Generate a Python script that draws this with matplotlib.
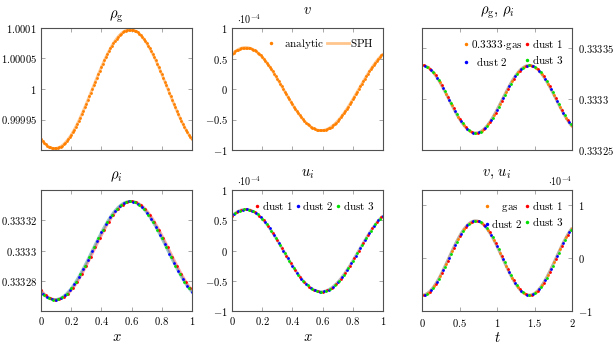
import numpy as np
import matplotlib
matplotlib.use('Agg')
import matplotlib.pyplot as plt
from matplotlib.lines import Line2D
from matplotlib.ticker import FixedLocator, FixedFormatter

plt.rcParams['font.family'] = ['cmr10', 'DejaVu Serif']
plt.rcParams['mathtext.fontset'] = 'cm'

# ---------------- data ----------------
x_pos = np.linspace(0, 1, 101)
t_pos = np.linspace(0, 2, 101)

# gas density deviation from 1, units of 1e-5
rho_g_dev = [-8.23, -8.54, -8.82, -9.07, -9.27, -9.45, -9.57, -9.67, -9.73, -9.75,
             -9.73, -9.67, -9.57, -9.45, -9.27, -9.07, -8.82, -8.54, -8.23, -7.89,
             -7.52, -7.11, -6.68, -6.21, -5.73, -5.23, -4.70, -4.15, -3.59, -3.01,
             -2.43, -1.82, -1.22, -0.61, 0.00, 0.61, 1.22, 1.82, 2.43, 3.01,
             3.59, 4.15, 4.70, 5.23, 5.73, 6.21, 6.68, 7.11, 7.52, 7.89,
             8.23, 8.54, 8.82, 9.07, 9.27, 9.45, 9.57, 9.67, 9.73, 9.75,
             9.73, 9.67, 9.57, 9.45, 9.27, 9.07, 8.82, 8.54, 8.23, 7.89,
             7.52, 7.11, 6.68, 6.21, 5.73, 5.23, 4.70, 4.15, 3.59, 3.01,
             2.43, 1.82, 1.22, 0.61, 0.00, -0.61, -1.22, -1.82, -2.43, -3.01,
             -3.59, -4.15, -4.70, -5.23, -5.73, -6.21, -6.68, -7.11, -7.52, -7.89, -8.23]

# gas velocity vs x, units of 1e-4
v_x = [0.574, 0.596, 0.615, 0.632, 0.647, 0.659, 0.668, 0.675, 0.679, 0.680,
       0.679, 0.675, 0.668, 0.659, 0.647, 0.632, 0.615, 0.596, 0.574, 0.550,
       0.524, 0.496, 0.466, 0.433, 0.400, 0.364, 0.328, 0.290, 0.250, 0.210,
       0.169, 0.127, 0.085, 0.043, 0.000, -0.043, -0.085, -0.127, -0.169, -0.210,
       -0.250, -0.290, -0.328, -0.364, -0.400, -0.433, -0.466, -0.496, -0.524, -0.550,
       -0.574, -0.596, -0.615, -0.632, -0.647, -0.659, -0.668, -0.675, -0.679, -0.680,
       -0.679, -0.675, -0.668, -0.659, -0.647, -0.632, -0.615, -0.596, -0.574, -0.550,
       -0.524, -0.496, -0.466, -0.433, -0.400, -0.364, -0.328, -0.290, -0.250, -0.210,
       -0.169, -0.127, -0.085, -0.043, 0.000, 0.043, 0.085, 0.127, 0.169, 0.210,
       0.250, 0.290, 0.328, 0.364, 0.400, 0.433, 0.466, 0.496, 0.524, 0.550, 0.574]

# dust velocities vs x (all three read as identical to v), units of 1e-4
u_x = v_x

# dust density deviation from 0.3333, units of 1e-5 (dust 2, dust 3)
rho_i_dev = [-2.74, -2.85, -2.94, -3.02, -3.09, -3.15, -3.19, -3.22, -3.24, -3.25,
             -3.24, -3.22, -3.19, -3.15, -3.09, -3.02, -2.94, -2.85, -2.74, -2.63,
             -2.51, -2.37, -2.23, -2.07, -1.91, -1.74, -1.57, -1.38, -1.20, -1.00,
             -0.81, -0.61, -0.41, -0.20, 0.00, 0.20, 0.41, 0.61, 0.81, 1.00,
             1.20, 1.38, 1.57, 1.74, 1.91, 2.07, 2.23, 2.37, 2.51, 2.63,
             2.74, 2.85, 2.94, 3.02, 3.09, 3.15, 3.19, 3.22, 3.24, 3.25,
             3.24, 3.22, 3.19, 3.15, 3.09, 3.02, 2.94, 2.85, 2.74, 2.63,
             2.51, 2.37, 2.23, 2.07, 1.91, 1.74, 1.57, 1.38, 1.20, 1.00,
             0.81, 0.61, 0.41, 0.20, 0.00, -0.20, -0.41, -0.61, -0.81, -1.00,
             -1.20, -1.38, -1.57, -1.74, -1.91, -2.07, -2.23, -2.37, -2.51, -2.63, -2.74]

# dust 1 density (slightly lagging), units of 1e-5
rho_d1_dev = [-2.63, -2.74, -2.85, -2.94, -3.02, -3.09, -3.15, -3.19, -3.22, -3.24,
              -3.25, -3.24, -3.22, -3.19, -3.15, -3.09, -3.02, -2.94, -2.85, -2.74,
              -2.63, -2.51, -2.37, -2.23, -2.07, -1.91, -1.74, -1.57, -1.38, -1.20,
              -1.00, -0.81, -0.61, -0.41, -0.20, 0.00, 0.20, 0.41, 0.61, 0.81,
              1.00, 1.20, 1.38, 1.57, 1.74, 1.91, 2.07, 2.23, 2.37, 2.51,
              2.63, 2.74, 2.85, 2.94, 3.02, 3.09, 3.15, 3.19, 3.22, 3.24,
              3.25, 3.24, 3.22, 3.19, 3.15, 3.09, 3.02, 2.94, 2.85, 2.74,
              2.63, 2.51, 2.37, 2.23, 2.07, 1.91, 1.74, 1.57, 1.38, 1.20,
              1.00, 0.81, 0.61, 0.41, 0.20, 0.00, -0.20, -0.41, -0.61, -0.81,
              -1.00, -1.20, -1.38, -1.57, -1.74, -1.91, -2.07, -2.23, -2.37, -2.51, -2.63]

# densities vs time, deviation from 0.3333, units of 1e-5
rho_t_dev = [3.33, 3.32, 3.28, 3.21, 3.13, 3.01, 2.88, 2.72, 2.54, 2.34,
             2.12, 1.89, 1.65, 1.38, 1.11, 0.83, 0.55, 0.26, -0.04, -0.33,
             -0.62, -0.90, -1.18, -1.45, -1.71, -1.95, -2.18, -2.39, -2.59, -2.76,
             -2.91, -3.04, -3.15, -3.23, -3.29, -3.32, -3.33, -3.31, -3.27, -3.20,
             -3.10, -2.98, -2.84, -2.68, -2.49, -2.29, -2.07, -1.83, -1.58, -1.32,
             -1.04, -0.76, -0.47, -0.18, 0.11, 0.40, 0.69, 0.97, 1.25, 1.52,
             1.77, 2.01, 2.23, 2.44, 2.63, 2.80, 2.95, 3.07, 3.17, 3.25,
             3.30, 3.33, 3.33, 3.30, 3.25, 3.17, 3.07, 2.95, 2.80, 2.63,
             2.44, 2.23, 2.01, 1.77, 1.52, 1.25, 0.97, 0.69, 0.40, 0.11,
             -0.18, -0.47, -0.76, -1.04, -1.32, -1.58, -1.83, -2.07, -2.29, -2.49, -2.68]

# velocities vs time, units of 1e-4
v_t = [-0.700, -0.697, -0.690, -0.676, -0.657, -0.634, -0.605, -0.572, -0.534, -0.492,
       -0.447, -0.398, -0.346, -0.291, -0.234, -0.175, -0.115, -0.054, 0.008, 0.069,
       0.130, 0.190, 0.249, 0.305, 0.359, 0.410, 0.459, 0.503, 0.544, 0.580,
       0.613, 0.640, 0.662, 0.680, 0.692, 0.699, 0.700, 0.696, 0.687, 0.672,
       0.652, 0.627, 0.597, 0.563, 0.524, 0.481, 0.435, 0.385, 0.332, 0.277,
       0.219, 0.160, 0.099, 0.039, -0.023, -0.085, -0.145, -0.204, -0.263, -0.319,
       -0.372, -0.423, -0.470, -0.514, -0.554, -0.589, -0.620, -0.646, -0.667, -0.683,
       -0.694, -0.699, -0.699, -0.694, -0.683, -0.667, -0.646, -0.620, -0.589, -0.553,
       -0.514, -0.470, -0.422, -0.372, -0.319, -0.263, -0.204, -0.145, -0.084, -0.023,
       0.039, 0.099, 0.160, 0.219, 0.277, 0.332, 0.385, 0.435, 0.481, 0.524, 0.563]

rho_g = 1.0 + 1e-5 * np.array(rho_g_dev)
rho_i = 0.3333 + 1e-5 * np.array(rho_i_dev)
rho_d1 = 0.3333 + 1e-5 * np.array(rho_d1_dev)
rho_t = 0.3333 + 1e-5 * np.array(rho_t_dev)

# ---------------- style ----------------
OR = '#ff8000'
RED = '#ff0000'
BLUE = '#0000ff'
GREEN = '#00e000'
MS = 2.0
TICK_FS = 7.6
LEG_FS = 8.0
TITLE_FS = 10.5

fig = plt.figure(figsize=(6.14, 3.45), dpi=100)
W, H = 614.0, 345.0


def mk_ax(l, t, r, b):
    return fig.add_axes([l / W, 1 - b / H, (r - l) / W, (b - t) / H])


axA = mk_ax(41, 28, 192, 150)
axB = mk_ax(232, 28, 383, 150)
axC = mk_ax(422, 28, 572, 150)
axD = mk_ax(41, 190, 192, 311)
axE = mk_ax(232, 190, 383, 311)
axF = mk_ax(422, 190, 572, 311)


def style(ax, right=False):
    for s in ax.spines.values():
        s.set_color('#505050')
        s.set_linewidth(0.8)
    ax.tick_params(direction='in', top=True, right=True, length=3.2, width=0.6,
                   color='#9a9a9a', labelsize=TICK_FS, pad=3)
    if right:
        ax.tick_params(labelleft=False, labelright=True, pad=4)


def set_ticks(axis, vals, labels):
    axis.set_major_locator(FixedLocator(vals))
    axis.set_major_formatter(FixedFormatter(labels))


def dots(ax, xs, ys, color, every=1, start=0):
    ax.plot(xs, ys, linestyle='none', marker='o', ms=MS, mew=0, color=color,
            markevery=(start, every))


def band(ax, xs, ys, color, alpha=0.35):
    ax.plot(xs, ys, color=color, lw=2.0, alpha=alpha, solid_capstyle='butt')


x_ticks = [0, 0.2, 0.4, 0.6, 0.8, 1]
x_labels = ['$0$', '$0.2$', '$0.4$', '$0.6$', '$0.8$', '$1$']
t_ticks = [0, 0.5, 1, 1.5, 2]
t_labels = ['$0$', '$0.5$', '$1$', '$1.5$', '$2$']
v_ticks = [-1, -0.5, 0, 0.5, 1]
v_labels = ['$-1$', '$-0.5$', '$0$', '$0.5$', '$1$']

LEG_KW = dict(frameon=False, loc='upper right', bbox_to_anchor=(1.0, 1.0),
              fontsize=LEG_FS, handletextpad=0.1, borderpad=0.3)

# ---- A: rho_g vs x ----
band(axA, x_pos, rho_g, OR, 0.45)
dots(axA, x_pos, rho_g, OR)
axA.set_xlim(0, 1)
axA.set_ylim(0.9999, 1.0001)
set_ticks(axA.xaxis, x_ticks, [''] * 6)
set_ticks(axA.yaxis, [0.99995, 1.0, 1.00005, 1.0001],
          ['$0.99995$', '$1$', '$1.00005$', '$1.0001$'])
axA.set_title(r'$\rho_{\mathrm{g}}$', fontsize=TITLE_FS, pad=7)
style(axA)

# ---- B: v vs x ----
band(axB, x_pos, v_x, OR, 0.45)
dots(axB, x_pos, v_x, OR)
axB.set_xlim(0, 1)
axB.set_ylim(-1, 1)
set_ticks(axB.xaxis, x_ticks, [''] * 6)
set_ticks(axB.yaxis, v_ticks, v_labels)
axB.set_title(r'$v$', fontsize=TITLE_FS, pad=10)
axB.text(0.03, 1.015, r'$\cdot 10^{-4}$', transform=axB.transAxes, fontsize=7.3,
         ha='left', va='bottom')
hB = [Line2D([], [], ls='none', marker='o', ms=2.5, mew=0, color=OR),
      Line2D([], [], color=OR, alpha=0.45, lw=2.0)]
axB.legend(hB, [r'$\mathrm{analytic}$', r'$\mathrm{SPH}$'], ncol=2,
           handlelength=2.0, columnspacing=0.3, **LEG_KW)
style(axB)

# ---- C: rho vs t ----
for c in (OR, RED, BLUE, GREEN):
    band(axC, t_pos, rho_t, c, 0.15)
dots(axC, t_pos, rho_t, OR, 4, 0)
dots(axC, t_pos, rho_t, RED, 4, 1)
dots(axC, t_pos, rho_t, BLUE, 4, 2)
dots(axC, t_pos, rho_t, GREEN, 4, 3)
axC.set_xlim(0, 2)
axC.set_ylim(0.33325, 0.33337)
set_ticks(axC.xaxis, t_ticks, [''] * 5)
set_ticks(axC.yaxis, [0.33325, 0.3333, 0.33335], ['$0.33325$', '$0.3333$', '$0.33335$'])
axC.set_title(r'$\rho_{\mathrm{g}},\,\rho_i$', fontsize=TITLE_FS, pad=10)


def dh(c):
    return Line2D([], [], ls='none', marker='o', ms=2.5, mew=0, color=c)


axC.legend([dh(OR), dh(BLUE), dh(RED), dh(GREEN)],
           [r'$0.3333\!\cdot\!\mathrm{gas}$', r'$\;\;\mathrm{dust\ 2}$',
            r'$\mathrm{dust\ 1}$', r'$\mathrm{dust\ 3}$'],
           ncol=2, handlelength=0.6, columnspacing=0.15, labelspacing=0.25, **LEG_KW)
style(axC, right=True)

# ---- D: rho_i vs x ----
band(axD, x_pos, rho_d1, RED, 0.35)
band(axD, x_pos, rho_i, GREEN, 0.25)
band(axD, x_pos, rho_i, BLUE, 0.2)
dots(axD, x_pos, rho_d1, RED, 3, 0)
dots(axD, x_pos, rho_i, BLUE, 3, 1)
dots(axD, x_pos, rho_i, GREEN, 3, 2)
axD.set_xlim(0, 1)
axD.set_ylim(0.33326, 0.33334)
set_ticks(axD.xaxis, x_ticks, x_labels)
set_ticks(axD.yaxis, [0.33328, 0.3333, 0.33332], ['$0.33328$', '$0.3333$', '$0.33332$'])
axD.set_title(r'$\rho_i$', fontsize=TITLE_FS, pad=8)
axD.set_xlabel(r'$x$', fontsize=TITLE_FS, labelpad=2)
style(axD)

# ---- E: u_i vs x ----
for c in (RED, BLUE, GREEN):
    band(axE, x_pos, u_x, c, 0.15)
dots(axE, x_pos, u_x, RED, 3, 0)
dots(axE, x_pos, u_x, BLUE, 3, 1)
dots(axE, x_pos, u_x, GREEN, 3, 2)
axE.set_xlim(0, 1)
axE.set_ylim(-1, 1)
set_ticks(axE.xaxis, x_ticks, x_labels)
set_ticks(axE.yaxis, v_ticks, v_labels)
axE.set_title(r'$u_i$', fontsize=TITLE_FS, pad=10)
axE.set_xlabel(r'$x$', fontsize=TITLE_FS, labelpad=2)
axE.text(0.03, 1.015, r'$\cdot 10^{-4}$', transform=axE.transAxes, fontsize=7.3,
         ha='left', va='bottom')
axE.legend([dh(RED), dh(BLUE), dh(GREEN)],
           [r'$\mathrm{dust\ 1}$', r'$\mathrm{dust\ 2}$', r'$\mathrm{dust\ 3}$'],
           ncol=3, handlelength=0.6, columnspacing=0.15, **LEG_KW)
style(axE)

# ---- F: v, u_i vs t ----
for c in (OR, RED, BLUE, GREEN):
    band(axF, t_pos, v_t, c, 0.15)
dots(axF, t_pos, v_t, OR, 4, 0)
dots(axF, t_pos, v_t, RED, 4, 1)
dots(axF, t_pos, v_t, BLUE, 4, 2)
dots(axF, t_pos, v_t, GREEN, 4, 3)
axF.set_xlim(0, 2)
axF.set_ylim(-1, 1.28)
set_ticks(axF.xaxis, t_ticks, t_labels)
set_ticks(axF.yaxis, [-1, 0, 1], ['$-1$', '$0$', '$1$'])
axF.set_title(r'$v,\,u_i$', fontsize=TITLE_FS, pad=10)
axF.set_xlabel(r'$t$', fontsize=TITLE_FS, labelpad=2)
axF.text(1.0, 1.015, r'$\cdot 10^{-4}$', transform=axF.transAxes, fontsize=7.3,
         ha='right', va='bottom')
axF.legend([dh(OR), dh(BLUE), dh(RED), dh(GREEN)],
           [r'$\;\;\;\;\mathrm{gas}$', r'$\mathrm{dust\ 2}$',
            r'$\mathrm{dust\ 1}$', r'$\mathrm{dust\ 3}$'],
           ncol=2, handlelength=0.6, columnspacing=0.15, labelspacing=0.25, **LEG_KW)
style(axF, right=True)

fig.savefig('out.png', dpi=100)
